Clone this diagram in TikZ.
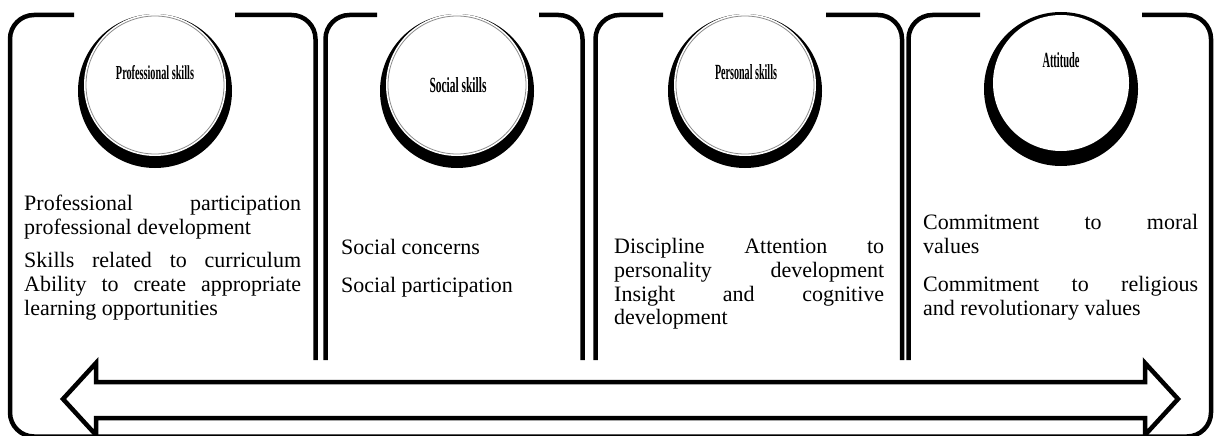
\documentclass[tikz,border=0pt]{standalone}
\usepackage{fontspec}
\setmainfont{Liberation Serif}
\begin{document}
\begin{tikzpicture}[x=1pt,y=-1pt,
  frame/.style={line width=4.5pt, rounded corners=24pt},
  shadowdisc/.style={fill=black},
  facedisc/.style={fill=white},
  ring/.style={draw=black!45, line width=0.8pt},
  lbl/.style={inner sep=0pt, font=\bfseries},
  txt/.style={inner sep=0pt, anchor=base west, font=\fontsize{22}{25}\selectfont},
  blockarrow/.style={draw=black, fill=white, line width=4.5pt, line join=miter}
]
\useasboundingbox (0,0) rectangle (1215,436);
\fill[white] (0,0) rectangle (1215,436);

% outer frame
\draw[frame] (74,15) -- (10,15) -- (10,436.5) -- (1211,436.5) -- (1211,15) -- (1142,15);
% T junctions between panels
\draw[frame] (235,15) -- (315.5,15) -- (315.5,360);
\draw[frame] (377,15) -- (325.5,15) -- (325.5,360);
\draw[frame] (539,15) -- (582.5,15) -- (582.5,360);
\draw[frame] (663,15) -- (595.5,15) -- (595.5,360);
\draw[frame] (826,15) -- (902,15) -- (902,360);
\draw[frame] (980,15) -- (908.5,15) -- (908.5,360);

% circles
\foreach \cx in {155,457,745}{
  \fill[shadowdisc] (\cx,91) circle[radius=77pt];
  \fill[facedisc] (\cx,85) circle[radius=71pt];
  \draw[ring] (\cx,85) circle[radius=69pt];
}
\fill[shadowdisc] (1061,89) circle[radius=77pt];
\fill[facedisc] (1061,83) circle[radius=68pt];

\node[lbl] (l1) at (155,73) {\resizebox{78pt}{14pt}{\bfseries Professional skills}};
\node[lbl] (l2) at (458,85) {\resizebox{57pt}{15pt}{\bfseries Social skills}};
\node[lbl] (l3) at (746,72) {\resizebox{62pt}{15pt}{\bfseries Personal skills}};
\node[lbl] (l4) at (1061,60) {\resizebox{37pt}{15pt}{\bfseries Attitude}};

% panel texts
\node[txt] (p1a) at (24,210) {\makebox[277pt][s]{Professional participation}};
\node[txt] (p1b) at (24,234) {professional development};
\node[txt] (p1c) at (24,267) {\makebox[277pt][s]{Skills related to curriculum}};
\node[txt] (p1d) at (24,291) {\makebox[277pt][s]{Ability to create appropriate}};
\node[txt] (p1e) at (24,315) {learning opportunities};

\node[txt] (p2a) at (341,254) {Social concerns};
\node[txt] (p2b) at (341,292) {Social participation};

\node[txt] (p3a) at (614,253) {\makebox[270pt][s]{Discipline Attention to}};
\node[txt] (p3b) at (614,277) {\makebox[270pt][s]{personality development}};
\node[txt] (p3c) at (614,301) {\makebox[270pt][s]{Insight and cognitive}};
\node[txt] (p3d) at (614,324) {development};

\node[txt] (p4a) at (923,229) {\makebox[275pt][s]{Commitment to moral}};
\node[txt] (p4b) at (923,253) {values};
\node[txt] (p4c) at (923,291) {\makebox[275pt][s]{Commitment to religious}};
\node[txt] (p4d) at (923,315) {and revolutionary values};

% double-headed block arrow
\draw[blockarrow] (63,399) -- (96,363) -- (96,382) -- (1145,382) -- (1145,363)
  -- (1178,399) -- (1145,435) -- (1145,418) -- (96,418) -- (96,435) -- cycle;
\end{tikzpicture}
\end{document}
